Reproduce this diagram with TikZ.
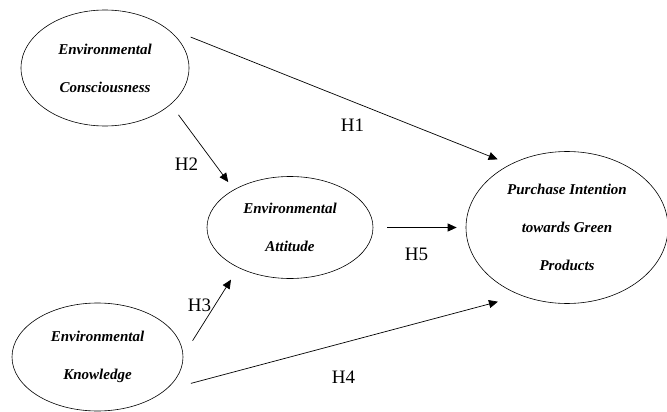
\documentclass[tikz,border=0pt]{standalone}
\usepackage{fontspec}
\setmainfont{Liberation Serif}
\usetikzlibrary{arrows.meta,shapes.geometric}
\begin{document}
\begin{tikzpicture}[x=1pt,y=-1pt,
  construct/.style={draw, ellipse, inner sep=0pt, line width=0.6pt, align=center,
    font=\bfseries\itshape\fontsize{15}{38}\selectfont},
  hlabel/.style={inner sep=0pt, font=\fontsize{19}{21}\selectfont},
  path/.style={line width=0.7pt, -{Triangle[length=9pt,width=8pt]}}]
\useasboundingbox (0,0) rectangle (667,412);
\node[construct, minimum width=168pt, minimum height=116pt] (ec) at (105,68) {Environmental\\Consciousness};
\node[construct, minimum width=166pt, minimum height=102pt] (ea) at (290,227.5) {Environmental\\Attitude};
\node[construct, minimum width=171pt, minimum height=108pt] (ek) at (97.5,357) {Environmental\\Knowledge};
\node[construct, minimum width=202pt, minimum height=152pt] (pi) at (567,227.5) {Purchase Intention\\towards Green\\Products};
\draw[path, shorten <=28.5pt, shorten >=13.5pt] (ec.35.4) -- (pi.132);
\draw[path, shorten <=13pt, shorten >=9.4pt] (ec.-29.2) -- (ea.146.4);
\draw[path, shorten <=17.5pt, shorten >=14pt] (ek.1) -- (ea.-142);
\draw[path, shorten <=14pt, shorten >=9pt] (ea.east) -- (pi.west);
\draw[path, shorten <=26.3pt, shorten >=24pt] (ek.-26.7) -- (pi.-124);
\node[hlabel] (h1) at (352.5,125) {H1};
\node[hlabel] (h2) at (186.5,164.5) {H2};
\node[hlabel] (h3) at (199.5,305) {H3};
\node[hlabel] (h5) at (416.5,254.5) {H5};
\node[hlabel] (h4) at (343.5,377) {H4};
\end{tikzpicture}
\end{document}
